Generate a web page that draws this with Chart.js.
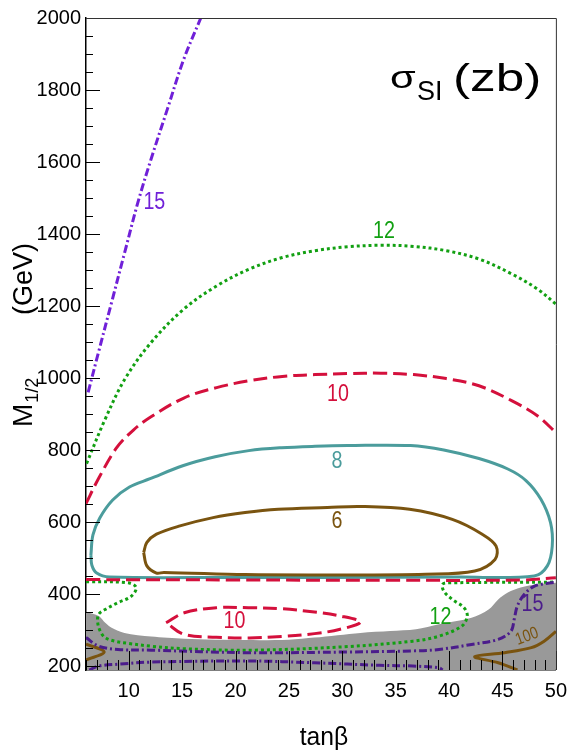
<!DOCTYPE html>
<html>
<head>
<meta charset="utf-8">
<script src="https://cdn.jsdelivr.net/npm/chart.js@4/dist/chart.umd.min.js"></script>
<style>
  html, body { margin: 0; padding: 0; background: #fff; }
  #wrap { width: 576px; height: 755px; }
</style>
</head>
<body>
<div id="wrap"><canvas id="c" width="576" height="755"></canvas></div>
<script>
// Axis ticks
const tanBetaTicks = [10, 15, 20, 25, 30, 35, 40, 45, 50];
const m12Ticks = [200, 400, 600, 800, 1000, 1200, 1400, 1600, 1800, 2000];

// Contour levels of sigma_SI (zb)
const levels = [6, 8, 10, 12, 15, 100];

// Contour lines: [tanβ, M1/2 (GeV)]
const sigma15Upper = [[6.2,961],[7.17,1072],[8.4,1211],[9.63,1350],[10.86,1488],[12.09,1608],[13.62,1747],[15.16,1886],[16.75,2000]];
const sigma12Upper = [[6.05,763],[7.79,886],[9.63,997],[12.09,1099],[15.16,1192],[18.23,1256],[21.3,1303],[24.38,1335],[27.45,1354],[30.52,1365],[33.6,1369],[36.67,1366],[39.74,1354],[42.8,1331],[45.9,1289],[48.3,1247],[50,1206]];
const sigma10Upper = [[6.0,652],[7.2,723],[8.87,807],[10.44,856],[12.09,893],[15.16,945],[18.23,974],[21.3,993],[24.38,1005],[27.45,1010],[30.52,1013],[33.6,1014],[36.67,1010],[39.74,999],[42.8,979],[45.9,937],[48.3,895],[50,849]];
const sigma8Loop = [[6.46,509],[6.65,565],[7.29,612],[8.5,662],[10.07,698],[12.0,721],[15.06,757],[18.1,782],[21.25,799],[24.3,807],[27.45,811],[30.5,813],[36.4,813],[39.5,801],[42.8,777],[45.5,748],[47.2,716],[48.6,664],[49.5,599],[49.66,534],[49.2,479],[47.97,451],[40.9,448],[28.6,447],[20,447],[8.2,448],[7.0,459],[6.55,481],[6.46,509]];
const sigma6Loop = [[11.4,516],[11.7,544],[12.6,567],[14.8,590],[17.9,613],[20.9,627],[24.0,636],[28.6,641],[31.7,644],[36.3,636],[40.3,608],[43.1,567],[44.4,534],[44.3,497],[42.4,465],[37.8,456],[28.6,454],[20.9,455],[13.3,461],[12.6,459],[11.7,479],[11.4,516]];
const sigma10Flat = [[6,441],[20,440],[35,439],[47,440],[50,446]];
const sigma10Loop = [[13.5,321],[15.2,349],[18.2,363],[21.2,363],[24.3,360],[27.4,351],[29.8,340],[31.7,323],[29.8,303],[27.4,291],[24.3,283],[21.3,279],[18.2,281],[15.2,289],[13.5,321]];
const sigma12Lower = [[6,435],[9.94,432],[10.7,419],[10.25,395],[9.0,377],[7.79,358],[7.17,344],[7.1,321],[7.33,298],[7.79,280],[8.7,270],[9.94,264],[12.1,256],[15.2,249],[21.6,245],[30.5,255],[36.6,270],[39.06,284],[41.2,312],[41.7,340],[41.4,363],[40.3,386],[39.5,409],[39.4,428],[40,432],[50,434]];
const sigma15LowerA = [[6,280],[7.2,256],[9,247],[12.1,245],[21.3,238],[30.5,240],[36.6,243],[39.06,247],[42.1,261],[44.6,275],[45.8,298],[46.1,331],[46.4,368],[47.05,400],[48,423],[49.6,432],[50,433]];
const sigma15LowerB = [[6.3,190],[7.17,201],[9,206],[12.1,212],[21.3,215],[27.4,210],[33.5,203],[36.6,201],[39.06,196],[39.4,190]];
const sigma100Right = [[46.4,190],[44.6,210],[42.4,227],[45.2,238],[47.7,252],[48.9,270],[50,297]];
const sigma100Left = [[6,262],[7.7,240],[6,218]];

// Upper edge of the shaded excluded region
const excludedEdge = [[6,352],[7.2,340],[7.8,321],[8.4,307],[9.6,293],[12.1,283],[15.2,277],[21,273],[25,274],[27.4,280],[31.7,293],[34.5,298],[36.9,303],[39.06,317],[42.1,335],[43.7,358],[44.6,386],[45.5,405],[46.7,419],[48.3,428],[50,432]];

const COLORS = {
  violet: '#7020d8',
  indigo: '#4b1c8c',
  green: '#12a012',
  red: '#d4103c',
  teal: '#4b9c9c',
  brown: '#7a5410',
  gray: '#999999'
};

const xy = arr => arr.map(([x, y]) => ({ x, y }));

function contour(data, color, dash, order) {
  return {
    data: xy(data),
    borderColor: color,
    borderWidth: 3,
    borderDash: dash,
    borderCapStyle: 'butt',
    pointRadius: 0,
    tension: 0.35,
    fill: false,
    order
  };
}

const DOT = [3, 3];
const DASH = [14, 6];
const DASHDOT = [8, 3, 2, 3];

const datasets = [
  {
    data: xy(excludedEdge),
    borderWidth: 0,
    borderColor: 'rgba(0,0,0,0)',
    backgroundColor: COLORS.gray,
    pointRadius: 0,
    tension: 0.3,
    fill: 'start',
    order: 10
  },
  contour(sigma12Upper, COLORS.green, DOT, 5),
  contour(sigma12Lower, COLORS.green, DOT, 5),
  contour(sigma8Loop, COLORS.teal, [], 4),
  contour(sigma6Loop, COLORS.brown, [], 3),
  contour(sigma100Right, COLORS.brown, [], 3),
  contour(sigma100Left, COLORS.brown, [], 3),
  contour(sigma10Upper, COLORS.red, DASH, 2),
  contour(sigma10Flat, COLORS.red, DASH, 2),
  contour(sigma10Loop, COLORS.red, DASH, 2),
  contour(sigma15Upper, COLORS.violet, DASHDOT, 1),
  contour(sigma15LowerA, COLORS.indigo, DASHDOT, 1),
  contour(sigma15LowerB, COLORS.indigo, DASHDOT, 1)
];

const FONT = "'Liberation Sans', Arial, Helvetica, sans-serif";

// Text drawn with a horizontal stretch factor
function stretchedText(ctx, text, x, y, sx, align) {
  ctx.save();
  ctx.translate(x, y);
  ctx.scale(sx, 1);
  ctx.textAlign = align || 'left';
  ctx.fillText(text, 0, 0);
  ctx.restore();
}

const decorations = {
  id: 'decorations',
  afterDatasetsDraw(chart) {
    const { ctx, chartArea: a, scales: { x, y } } = chart;
    ctx.save();

    // inward tick marks
    ctx.strokeStyle = '#000';
    ctx.lineWidth = 1;
    ctx.beginPath();
    for (let v = Math.ceil(x.min); v <= x.max; v++) {
      const px = Math.round(x.getPixelForValue(v)) + 0.5;
      const len = v % 5 === 0 ? 19 : 10;
      ctx.moveTo(px, a.bottom);
      ctx.lineTo(px, a.bottom - len);
    }
    for (let v = 200; v <= y.max; v += 50) {
      const py = Math.round(y.getPixelForValue(v)) + 0.5;
      const len = v % 200 === 0 ? 14 : 7;
      ctx.moveTo(a.left, py);
      ctx.lineTo(a.left + len, py);
    }
    ctx.stroke();

    // top and right frame
    ctx.strokeStyle = '#333';
    ctx.beginPath();
    ctx.moveTo(a.left, a.top + 0.5);
    ctx.lineTo(a.right + 0.5, a.top + 0.5);
    ctx.lineTo(a.right + 0.5, a.bottom);
    ctx.stroke();

    // contour level labels
    const label = (value, tx, my, color, size, angle) => {
      ctx.save();
      ctx.fillStyle = color;
      ctx.font = `${size}px ${FONT}`;
      ctx.textBaseline = 'middle';
      ctx.translate(x.getPixelForValue(tx), y.getPixelForValue(my));
      ctx.rotate(angle || 0);
      ctx.scale(0.82, 1);
      ctx.textAlign = 'center';
      ctx.fillText(String(value), 0, 0);
      ctx.restore();
    };
    label(levels[4], 12.4, 1489, COLORS.violet, 24);
    label(levels[3], 33.9, 1409, COLORS.green, 24);
    label(levels[2], 29.6, 954, COLORS.red, 24);
    label(levels[1], 29.5, 770, COLORS.teal, 24);
    label(levels[0], 29.5, 602, COLORS.brown, 24);
    label(levels[2], 19.9, 326, COLORS.red, 24);
    label(levels[3], 39.2, 335, COLORS.green, 24);
    label(levels[4], 47.8, 372, COLORS.indigo, 24);
    label(levels[5], 47.3, 283, COLORS.brown, 17, -0.35);

    // plot title: sigma_SI (zb)
    ctx.fillStyle = '#000';
    ctx.textBaseline = 'alphabetic';
    ctx.font = `32px ${FONT}`;
    stretchedText(ctx, 'σ', 390, 88, 1.3);
    ctx.font = `27px ${FONT}`;
    stretchedText(ctx, 'SI', 417, 100, 1.0);
    ctx.font = `38px ${FONT}`;
    stretchedText(ctx, '(zb)', 453, 91, 1.35);

    // x-axis title
    ctx.font = `26px ${FONT}`;
    stretchedText(ctx, 'tanβ', 324, 745, 0.95, 'center');

    // y-axis title, rotated
    ctx.save();
    ctx.translate(32, 427);
    ctx.rotate(-Math.PI / 2);
    ctx.font = `28px ${FONT}`;
    ctx.textAlign = 'left';
    ctx.fillText('M', 0, 0);
    const mw = ctx.measureText('M').width;
    ctx.font = `18px ${FONT}`;
    ctx.fillText('1/2', mw + 1, 6);
    ctx.font = `27px ${FONT}`;
    ctx.fillText('(GeV)', 112, 0);
    ctx.restore();

    ctx.restore();
  }
};

new Chart(document.getElementById('c'), {
  type: 'line',
  data: { datasets },
  options: {
    responsive: false,
    animation: false,
    devicePixelRatio: 1,
    layout: { padding: { top: 18, right: 14, left: 0, bottom: 0 } },
    plugins: { legend: { display: false }, tooltip: { enabled: false } },
    scales: {
      x: {
        type: 'linear',
        min: 6,
        max: 50,
        grid: { display: false, drawTicks: false },
        border: { display: true, color: '#000', width: 1.5 },
        afterBuildTicks: s => { s.ticks = tanBetaTicks.map(v => ({ value: v })); },
        afterFit: s => { s.height = 85; },
        ticks: { color: '#000', font: { family: FONT, size: 20 }, padding: 9, maxRotation: 0, autoSkip: false, callback: v => String(v) }
      },
      y: {
        type: 'linear',
        min: 190,
        max: 2000,
        grid: { display: false, drawTicks: false },
        border: { display: true, color: '#000', width: 1.5 },
        afterBuildTicks: s => { s.ticks = m12Ticks.map(v => ({ value: v })); },
        afterFit: s => { s.width = 86; },
        ticks: { color: '#000', font: { family: FONT, size: 20 }, padding: 5, autoSkip: false, callback: v => String(v) }
      }
    }
  },
  plugins: [decorations]
});
</script>
</body>
</html>
